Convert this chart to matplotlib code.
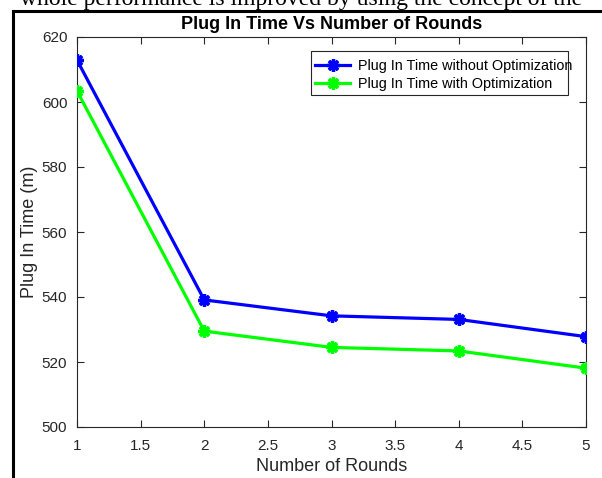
import matplotlib
matplotlib.use("Agg")
import matplotlib.pyplot as plt
from matplotlib.lines import Line2D
from matplotlib.patches import Rectangle

rounds = [1, 2, 3, 4, 5]
without_opt = [612.9, 539.1, 534.2, 533.1, 527.8]
with_opt = [603.4, 529.5, 524.5, 523.4, 518.1]
x_ticks = [1, 1.5, 2, 2.5, 3, 3.5, 4, 4.5, 5]
y_ticks = [500, 520, 540, 560, 580, 600, 620]
series_labels = ["Plug In Time without Optimization", "Plug In Time with Optimization"]

plt.rcParams['font.family'] = ['Liberation Sans', 'DejaVu Sans']

W, H = 602, 478
fig = plt.figure(figsize=(W / 100, H / 100), dpi=100)
ax = fig.add_axes([77 / W, 1 - 427 / H, (586 - 77) / W, (427 - 37) / H])

gray = '#262626'
ast = (8, 2, 0)
ax.plot(rounds, without_opt, color='#0000ff', lw=2.3, marker=ast, ms=9, mew=2.4,
        label=series_labels[0], zorder=3)
ax.plot(rounds, with_opt, color='#00ff00', lw=2.3, marker=ast, ms=9, mew=2.4,
        label=series_labels[1], zorder=3)

ax.set_xlim(1, 5)
ax.set_ylim(500, 620)
ax.set_xticks(x_ticks)
ax.set_xticklabels([f"{v:g}" for v in x_ticks])
ax.set_yticks(y_ticks)
ax.tick_params(direction='in', length=5, width=0.8, top=True, right=True,
               labelsize=11, colors=gray, labelcolor=gray)
ax.tick_params(axis='x', pad=9)
ax.tick_params(axis='y', pad=7)
for s in ax.spines.values():
    s.set_color(gray)
    s.set_linewidth(0.8)

ax.set_title("Plug In Time Vs Number of Rounds", fontsize=13, fontweight='bold',
             color='black', pad=6)
ax.set_xlabel("Number of Rounds", fontsize=13, color=gray, labelpad=3)
ax.set_ylabel("Plug In Time (m)", fontsize=13, color=gray, labelpad=3)

# legend box (MATLAB style, text slightly overflows it)
box = Rectangle((311 / W, 1 - 95 / H), (568 - 311) / W, (95 - 51) / H,
                transform=fig.transFigure, facecolor='white',
                edgecolor=gray, lw=0.8, zorder=4, clip_on=False)
ax.add_patch(box)
leg = ax.legend(loc='upper left', bbox_to_anchor=(315 / W, 1 - 59 / H),
                bbox_transform=fig.transFigure, fontsize=10.4, frameon=False,
                borderpad=0, borderaxespad=0, handlelength=2.45,
                labelspacing=0.3, handletextpad=0.55)
leg.set_zorder(6)
for t in leg.get_texts():
    t.set_color('black')

# document frame around the figure
fig.add_artist(Line2D([13 / W, 13 / W], [0, 1 - 11 / H], color='black', lw=2.2))
fig.add_artist(Line2D([13 / W, 1], [1 - 11 / H, 1 - 11 / H], color='black', lw=2.2))
# clipped document text line at the top
fig.text(0.5, 1 - 5 / H, "whole performance is improved by using the concept of the",
         family='Liberation Serif', fontsize=17, ha='center', va='baseline', color='black')

fig.savefig("out.png", dpi=100)
